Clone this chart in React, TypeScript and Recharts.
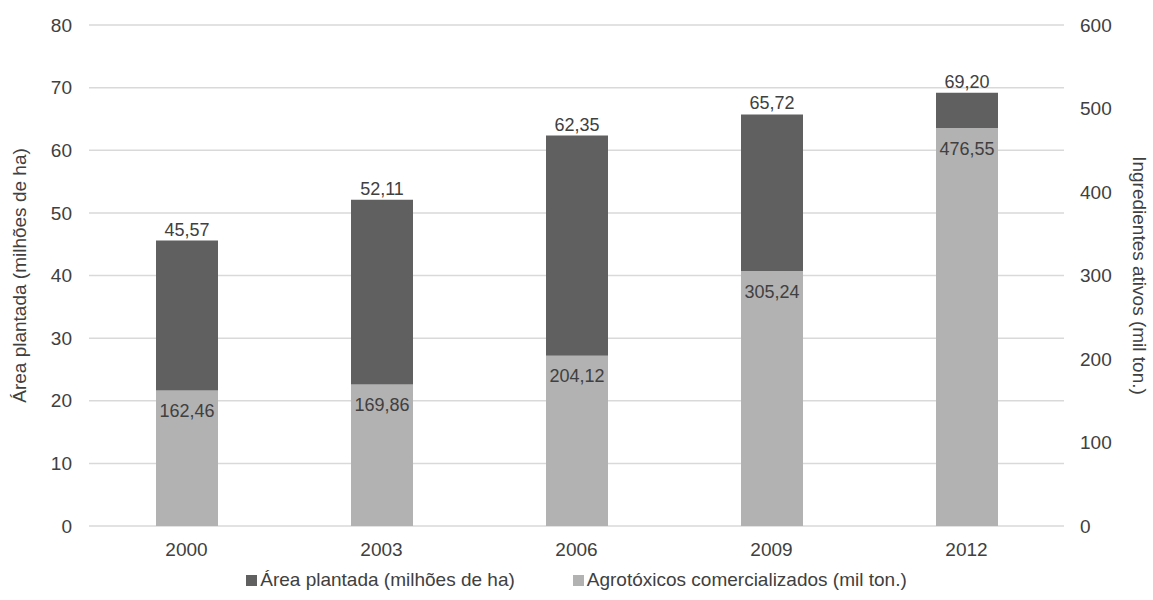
import { Bar, BarChart, CartesianGrid, LabelList, Legend, XAxis, YAxis } from 'recharts'

const years = ['2000', '2003', '2006', '2009', '2012']
const areaPlantada = [45.57, 52.11, 62.35, 65.72, 69.2]
const agrotoxicos = [162.46, 169.86, 204.12, 305.24, 476.55]
const leftTicks = [0, 10, 20, 30, 40, 50, 60, 70, 80]
const rightTicks = [0, 100, 200, 300, 400, 500, 600]

const data = years.map((year, i) => ({
  year,
  area: areaPlantada[i],
  agro: agrotoxicos[i],
}))

const FONT = '"Liberation Sans", Arial, sans-serif'
const TEXT = '#404040'
const DARK = '#606060'
const LIGHT = '#b2b2b2'

const fmt = (v: any) => Number(v).toFixed(2).replace('.', ',')

const leftTitle = (props: any) => {
  const { x, y, height } = props.viewBox
  const cx = x + 19.5
  const cy = y + height / 2
  return (
    <text x={cx} y={cy} transform={`rotate(-90 ${cx} ${cy})`} textAnchor="middle"
      dominantBaseline="central" fill={TEXT} fontSize={19} fontFamily={FONT}>
      Área plantada (milhões de ha)
    </text>
  )
}

const rightTitle = (props: any) => {
  const { x, y, height } = props.viewBox
  const cx = x + 75
  const cy = y + height / 2
  return (
    <text x={cx} y={cy} transform={`rotate(90 ${cx} ${cy})`} textAnchor="middle"
      dominantBaseline="central" fill={TEXT} fontSize={19} fontFamily={FONT}>
      Ingredientes ativos (mil ton.)
    </text>
  )
}

const legendItems = [
  { label: 'Área plantada (milhões de ha)', color: DARK },
  { label: 'Agrotóxicos comercializados (mil ton.)', color: LIGHT },
]

const renderLegend = () => (
  <div style={{ display: 'flex', justifyContent: 'center', gap: 58, height: 24, lineHeight: '24px',
    fontFamily: FONT, fontSize: 19, color: TEXT }}>
    {legendItems.map((item) => (
      <div key={item.label} style={{ display: 'flex', alignItems: 'center' }}>
        <span style={{ width: 11, height: 11, background: item.color, marginRight: 3, display: 'inline-block' }} />
        <span>{item.label}</span>
      </div>
    ))}
  </div>
)

export default function App() {
  return (
    <div style={{ position: 'absolute', left: 0, top: 0, background: '#fff' }}>
      <BarChart width={1153} height={600} data={data}
        margin={{ top: 25, right: 0, left: 0, bottom: 8 }} barGap={-62}>
        <CartesianGrid yAxisId="left" vertical={false} stroke="#d9d9d9" strokeWidth={1.5} />
        <XAxis dataKey="year" height={42} axisLine={false} tickLine={false} tickMargin={11}
          tick={{ fill: TEXT, fontSize: 19, fontFamily: FONT }} />
        <YAxis yAxisId="left" width={89} domain={[0, 80]} ticks={leftTicks} axisLine={false}
          tickLine={false} tickMargin={11} tick={{ fill: TEXT, fontSize: 19, fontFamily: FONT }}
          label={leftTitle} />
        <YAxis yAxisId="right" orientation="right" width={89} domain={[0, 600]} ticks={rightTicks}
          axisLine={false} tickLine={false} tickMargin={10}
          tick={{ fill: TEXT, fontSize: 19, fontFamily: FONT, textAnchor: 'start' }}
          label={rightTitle} />
        <Legend verticalAlign="bottom" content={renderLegend} />
        <Bar yAxisId="left" dataKey="area" name="Área plantada (milhões de ha)" fill={DARK}
          barSize={62} isAnimationActive={false}>
          <LabelList dataKey="area" position="top" offset={5} formatter={fmt}
            style={{ fill: TEXT, fontSize: 18, fontFamily: FONT }} />
        </Bar>
        <Bar yAxisId="right" dataKey="agro" name="Agrotóxicos comercializados (mil ton.)" fill={LIGHT}
          barSize={62} isAnimationActive={false}>
          <LabelList dataKey="agro" position="insideTop" offset={14} formatter={fmt}
            style={{ fill: TEXT, fontSize: 18, fontFamily: FONT }} />
        </Bar>
      </BarChart>
    </div>
  )
}
